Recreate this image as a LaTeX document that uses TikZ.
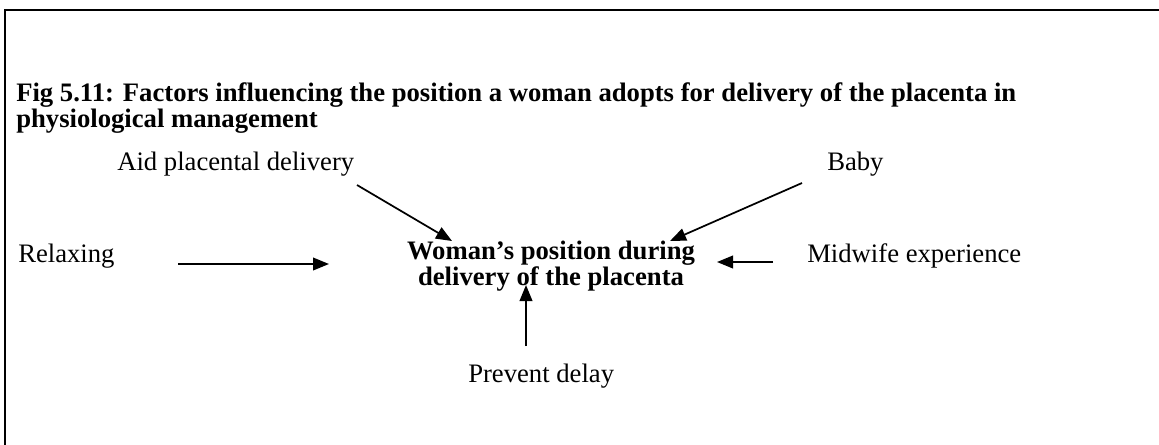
\documentclass[tikz,border=0pt]{standalone}
\usepackage{fontspec}
\setmainfont{Liberation Serif}
\usetikzlibrary{arrows.meta}
\begin{document}
\begin{tikzpicture}[x=0.75pt,y=-0.75pt,
  lbl/.style={font=\fontsize{20}{17.5}\selectfont, inner sep=0pt, anchor=base west},
  ttl/.style={font=\fontsize{20}{18}\selectfont\bfseries, inner sep=0pt, anchor=base west, align=left},
  ctr/.style={font=\fontsize{20}{17.5}\selectfont\bfseries, inner sep=0pt, anchor=base, align=center},
  arr/.style={line width=1.3pt, -{Triangle[length=12pt,width=9.5pt]}},
  frame/.style={line width=1.6pt}]
\useasboundingbox (0,0) rectangle (1159,444);
\draw[frame] (5,446) -- (5,10) -- (1162,10);
\node[ttl] (title) at (16,127) {Fig 5.11: Factors influencing the position a woman adopts for delivery of the placenta in\\physiological management};
\node[lbl] (aid) at (117,170) {Aid placental delivery};
\node[lbl] (baby) at (827,170) {Baby};
\node[lbl] (relax) at (18,262) {Relaxing};
\node[lbl] (mid) at (807,262) {Midwife experience};
\node[lbl] (prev) at (468,382) {Prevent delay};
\node[ctr] (woman) at (551,285) {Woman’s position during\\delivery of the placenta};
\coordinate (aidA) at (357,185);
\coordinate (aidB) at (452,241);
\coordinate (babyA) at (802,183);
\coordinate (babyB) at (670,241);
\coordinate (relaxA) at (178,264);
\coordinate (relaxB) at (329,264);
\coordinate (midA) at (773,262);
\coordinate (midB) at (717,262);
\coordinate (prevA) at (526,346);
\coordinate (prevB) at (526,285);
\draw[arr] (aidA) -- (aidB);
\draw[arr] (babyA) -- (babyB);
\draw[arr] (relaxA) -- (relaxB);
\draw[arr] (midA) -- (midB);
\draw[arr] (prevA) -- (prevB);
\end{tikzpicture}
\end{document}
